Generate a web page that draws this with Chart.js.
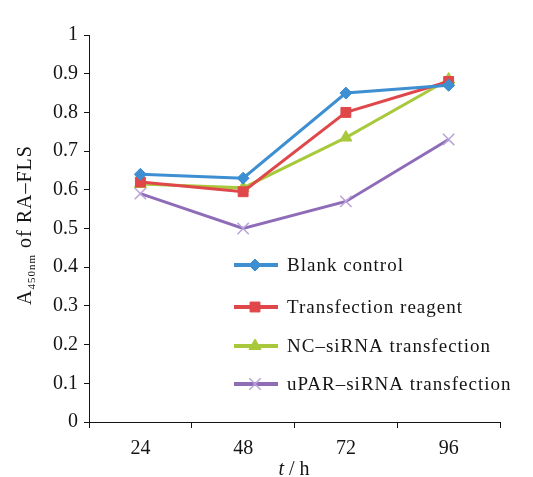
<!DOCTYPE html>
<html>
<head>
<meta charset="UTF-8">
<title>A450nm of RA-FLS</title>
<script src="https://cdn.jsdelivr.net/npm/chart.js"></script>
<style>
    body { margin: 0; background: #fff; }
    .wrap { width: 533px; height: 477px; position: relative; }
</style>
</head>
<body>
<div class="wrap"><canvas id="chart" width="533" height="477"></canvas></div>
<script>
    // data
    const hours = ['24', '48', '72', '96'];
    const blankControl = [0.64, 0.63, 0.85, 0.87];
    const transReagent = [0.62, 0.595, 0.80, 0.88];
    const ncSirna = [0.615, 0.605, 0.735, 0.885];
    const uparSirna = [0.59, 0.50, 0.57, 0.73];
    const seriesNames = ['Blank control', 'Transfection reagent', 'NC\u2013siRNA transfection', 'uPAR\u2013siRNA transfection'];
    const yTicks = [0, 0.1, 0.2, 0.3, 0.4, 0.5, 0.6, 0.7, 0.8, 0.9, 1];

    const serif = '"Liberation Serif", "DejaVu Serif", serif';
    const ink = '#141414';

    function makeSet(label, data, color, pointColor, style, radius) {
        return {
            label: label,
            data: data,
            borderColor: color,
            backgroundColor: pointColor,
            pointBorderColor: pointColor,
            pointBackgroundColor: pointColor,
            borderWidth: 3,
            pointStyle: style,
            pointRadius: radius,
            pointBorderWidth: style === 'crossRot' ? 1.5 : 1,
            tension: 0
        };
    }

    // legend drawn inside the plot area, like the original figure
    const insideLegend = {
        id: 'insideLegend',
        afterDraw(chart) {
            const ctx = chart.ctx;
            const rows = [265, 307, 346, 384];
            ctx.save();
            chart.data.datasets.forEach((ds, i) => {
                const y = rows[i];
                ctx.strokeStyle = ds.borderColor;
                ctx.lineWidth = 4;
                ctx.beginPath();
                ctx.moveTo(234, y);
                ctx.lineTo(278, y);
                ctx.stroke();
                ctx.fillStyle = ds.pointBackgroundColor;
                ctx.strokeStyle = ds.pointBorderColor;
                ctx.lineWidth = ds.pointBorderWidth;
                Chart.helpers.drawPoint(ctx, {
                    pointStyle: ds.pointStyle,
                    radius: ds.pointRadius,
                    borderWidth: ds.pointBorderWidth
                }, 255, y);
                ctx.fillStyle = ink;
                ctx.font = '19px ' + serif;
                ctx.letterSpacing = '1px';
                ctx.textBaseline = 'middle';
                ctx.textAlign = 'left';
                ctx.fillText(ds.label, 287, y + 1);
            });
            ctx.restore();
        }
    };

    // axis titles: y with the 450nm subscript, x with an italic t
    const axisTitles = {
        id: 'axisTitles',
        afterDraw(chart) {
            const ctx = chart.ctx;
            const big = '20px ' + serif;
            const small = '11px ' + serif;
            ctx.save();
            ctx.fillStyle = ink;
            ctx.textBaseline = 'alphabetic';
            ctx.textAlign = 'left';
            ctx.letterSpacing = '1px';
            ctx.translate(31, 225);
            ctx.rotate(-Math.PI / 2);
            ctx.font = big; const wA = ctx.measureText('A').width;
            ctx.font = small; const wSub = ctx.measureText('450nm').width;
            ctx.font = big; const wRest = ctx.measureText(' of RA\u2013FLS').width;
            let x = -(wA + wSub + wRest) / 2;
            ctx.font = big; ctx.fillText('A', x, 0); x += wA;
            ctx.font = small; ctx.fillText('450nm', x, 4); x += wSub;
            ctx.font = big; ctx.fillText(' of RA\u2013FLS', x, 0);
            ctx.restore();

            ctx.save();
            ctx.fillStyle = ink;
            ctx.textBaseline = 'alphabetic';
            ctx.textAlign = 'left';
            ctx.font = 'italic ' + big; const wt = ctx.measureText('t').width;
            ctx.font = big; const wh = ctx.measureText(' / h').width;
            let tx = 294 - (wt + wh) / 2;
            ctx.font = 'italic ' + big; ctx.fillText('t', tx, 475);
            ctx.font = big; ctx.fillText(' / h', tx + wt, 475);
            ctx.restore();
        }
    };

    new Chart(document.getElementById('chart'), {
        type: 'line',
        data: {
            labels: hours,
            datasets: [
                makeSet(seriesNames[0], blankControl, '#3d8fd1', '#3d8fd1', 'rectRot', 6),
                makeSet(seriesNames[1], transReagent, '#e0474a', '#e0474a', 'rect', 7),
                makeSet(seriesNames[2], ncSirna, '#a9c93c', '#a9c93c', 'triangle', 7),
                makeSet(seriesNames[3], uparSirna, '#8f6cb8', '#b9a3d8', 'crossRot', 8)
            ]
        },
        options: {
            responsive: false,
            animation: false,
            layout: { padding: { left: 0, top: 35, right: 33, bottom: 0 } },
            plugins: {
                legend: { display: false },
                tooltip: { enabled: false }
            },
            scales: {
                x: {
                    offset: true,
                    grid: { offset: true, drawOnChartArea: false, drawTicks: true, tickLength: 6, color: ink },
                    border: { color: ink, width: 1 },
                    ticks: { color: ink, font: { family: serif, size: 20 }, padding: 9 },
                    afterFit(scale) { scale.height = 55; }
                },
                y: {
                    min: 0,
                    max: 1,
                    afterBuildTicks(scale) { scale.ticks = yTicks.map(v => ({ value: v })); },
                    grid: { drawOnChartArea: false, drawTicks: true, tickLength: 5, color: ink },
                    border: { color: ink, width: 1 },
                    ticks: {
                        color: ink,
                        font: { family: serif, size: 20 },
                        padding: 6,
                        callback: v => String(v)
                    },
                    afterFit(scale) { scale.width = 89; }
                }
            }
        },
        plugins: [insideLegend, axisTitles]
    });
</script>
</body>
</html>
